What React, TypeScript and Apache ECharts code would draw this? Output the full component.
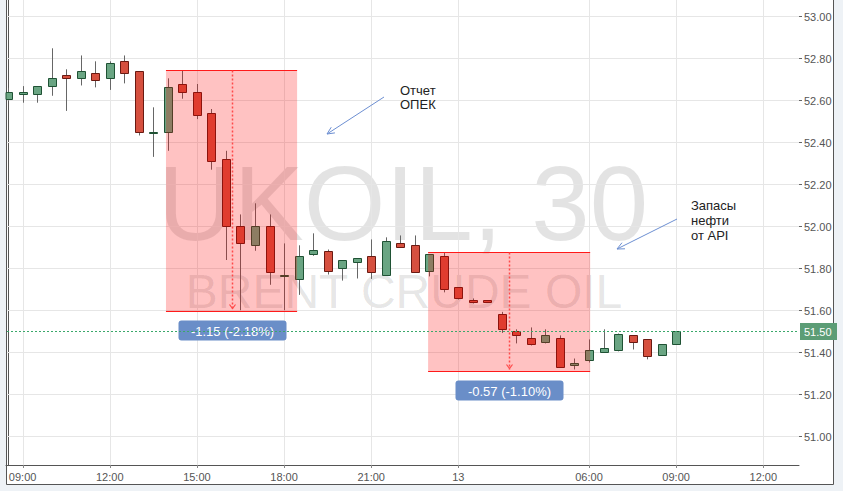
import React, { useEffect, useRef } from 'react';
import * as echarts from 'echarts';

// 30-minute candles, slot 0 = 08:30 (day 12)
const opens = [52.605, 52.632, 52.629, 52.667, 52.719, 52.705, 52.729, 52.705, 52.786, 52.738,
  52.448, 52.448, 52.676, 52.638, 52.538, 52.319, 52.000, 51.910, 52.000, 51.767,
  51.748, 51.867, 51.881, 51.800, 51.829, 51.857, 51.767, 51.919, 51.910, 51.790,
  51.857, 51.710, 51.648, 51.648, 51.581, 51.501, 51.471, 51.448, 51.471, 51.338,
  51.362, 51.400, 51.410, 51.481, 51.462, 51.390, 51.438];
const closes = [52.638, 52.640, 52.667, 52.705, 52.705, 52.738, 52.695, 52.776, 52.729, 52.448,
  52.449, 52.665, 52.638, 52.529, 52.310, 52.000, 51.919, 52.000, 51.781, 51.768,
  51.857, 51.889, 51.790, 51.838, 51.848, 51.781, 51.929, 51.900, 51.781, 51.867,
  51.700, 51.657, 51.638, 51.640, 51.510, 51.481, 51.438, 51.481, 51.329, 51.348,
  51.410, 51.419, 51.490, 51.448, 51.381, 51.438, 51.500];
const lows = [52.598, 52.589, 52.589, 52.622, 52.550, 52.671, 52.662, 52.650, 52.681, 52.433,
  52.331, 52.360, 52.608, 52.511, 52.270, 51.840, 51.601, 51.884, 51.722, 51.601,
  51.674, 51.860, 51.771, 51.742, 51.752, 51.750, 51.767, 51.900, 51.781, 51.762,
  51.686, 51.652, 51.633, 51.640, 51.493, 51.443, 51.433, 51.443, 51.329, 51.319,
  51.352, 51.400, 51.405, 51.414, 51.367, 51.386, 51.438];
const highs = [52.660, 52.668, 52.667, 52.848, 52.748, 52.814, 52.786, 52.786, 52.814, 52.738,
  52.567, 52.705, 52.740, 52.678, 52.559, 52.360, 52.057, 52.110, 52.057, 51.919,
  51.910, 51.967, 51.890, 51.838, 51.848, 51.938, 51.948, 51.957, 51.957, 51.867,
  51.876, 51.710, 51.657, 51.648, 51.593, 51.510, 51.519, 51.510, 51.481, 51.371,
  51.462, 51.510, 51.490, 51.481, 51.462, 51.438, 51.500];

const xTickSlots = [1, 7, 13, 19, 25, 31, 40, 46, 52];
const xTickLabels = ['09:00', '12:00', '15:00', '18:00', '21:00', '13', '06:00', '09:00', '12:00'];
const yTickValues = [51.0, 51.2, 51.4, 51.6, 51.8, 52.0, 52.2, 52.4, 52.6, 52.8, 53.0];

const rangeStart = [10.87, 28.92];
const rangeEnd = [19.9, 40.08];
const rangeHigh = [52.745, 51.88];
const rangeLow = [51.595, 51.31];
const rangeLabels = ['-1.15 (-2.18%)', '-0.57 (-1.10%)'];

const lastPrice = 51.5;
const X_MIN = -0.145;
const X_MAX = 54.46;
const Y_MIN = 50.864;
const Y_MAX = 53.078;

const FONT = '"Liberation Sans", Arial, sans-serif';

function arrowHead(x1: number, y1: number, x2: number, y2: number, len: number) {
  const dx = x1 - x2, dy = y1 - y2;
  const l = Math.sqrt(dx * dx + dy * dy);
  const bx = dx / l, by = dy / l;
  const a = (25 * Math.PI) / 180;
  const c = Math.cos(a), s = Math.sin(a);
  const p1 = [x2 + len * (bx * c - by * s), y2 + len * (bx * s + by * c)];
  const p2 = [x2 + len * (bx * c + by * s), y2 + len * (-bx * s + by * c)];
  return [p1, [x2, y2], p2];
}

export default function App() {
  const ref = useRef<HTMLDivElement>(null);
  useEffect(() => {
    if (!ref.current) return;
    const chart = echarts.init(ref.current, undefined, { renderer: 'svg' });

    const candleData = opens.map((o, k) => [k, o, closes[k], lows[k], highs[k]]);

    const renderCandle = (params: any, api: any) => {
      const idx = api.value(0), o = api.value(1), c = api.value(2), l = api.value(3), h = api.value(4);
      const cs = params.coordSys;
      const xc = api.coord([idx, o])[0];
      const yO = api.coord([idx, o])[1];
      const yC = api.coord([idx, c])[1];
      const yL = api.coord([idx, l])[1];
      const yH = api.coord([idx, h])[1];
      const up = c >= o;
      const bw = 8;
      const x = Math.round(xc - bw / 2) + 0.5;
      const top = Math.round(Math.min(yO, yC)) + 0.5;
      let bot = Math.round(Math.max(yO, yC)) + 0.5;
      if (bot - top < 1) bot = top + 1;
      const rect = echarts.graphic.clipRectByRect(
        { x, y: top, width: bw, height: bot - top },
        { x: cs.x, y: cs.y, width: cs.width, height: cs.height }
      );
      const wx = Math.round(xc) + 0.5;
      const children: any[] = [];
      if (wx > cs.x) {
        children.push({ type: 'line', shape: { x1: wx, y1: yH, x2: wx, y2: yL }, style: { stroke: '#666', lineWidth: 1 } });
      }
      if (rect) {
        children.push({
          type: 'rect',
          shape: rect,
          style: up ? { fill: '#6aa583', stroke: '#1f5234', lineWidth: 1 } : { fill: '#d6503f', stroke: '#6a1a12', lineWidth: 1 },
        });
      }
      return { type: 'group', children };
    };

    // horizontal gridline + right-axis tick + label
    const renderHGrid = (params: any, api: any) => {
      const cs = params.coordSys;
      const v = api.value(1);
      const y = Math.round(api.coord([X_MIN, v])[1]) + 0.5;
      const right = cs.x + cs.width;
      return {
        type: 'group',
        children: [
          { type: 'line', shape: { x1: cs.x + 1, y1: y, x2: right, y2: y }, style: { stroke: '#e6e6e6', lineWidth: 1 } },
          { type: 'line', shape: { x1: right, y1: y, x2: right + 3, y2: y }, style: { stroke: '#666', lineWidth: 1 } },
          {
            type: 'text',
            style: { x: right + 5, y: y, text: v.toFixed(2), fill: '#555', font: '11px ' + FONT, align: 'left', verticalAlign: 'middle' },
          },
        ],
      };
    };
    const renderVGrid = (params: any, api: any) => {
      const cs = params.coordSys;
      const x = Math.round(api.coord([api.value(0), Y_MIN])[0]) + 0.5;
      const bottom = cs.y + cs.height;
      return {
        type: 'group',
        children: [
          { type: 'line', shape: { x1: x, y1: cs.y, x2: x, y2: bottom }, style: { stroke: '#e6e6e6', lineWidth: 1 } },
          { type: 'line', shape: { x1: x, y1: bottom, x2: x, y2: bottom + 3 }, style: { stroke: '#888', lineWidth: 1 } },
        ],
      };
    };

    const renderRange = (params: any, api: any) => {
      const k = params.dataIndex;
      const p0 = api.coord([api.value(0), api.value(2)]);
      const p1 = api.coord([api.value(1), api.value(3)]);
      const x0 = p0[0], x1 = p1[0];
      const yT = Math.round(p0[1]) + 0.5, yB = Math.round(p1[1]) + 0.5;
      const xm = Math.round((x0 + x1) / 2) + 0.5;
      return {
        type: 'group',
        children: [
          { type: 'rect', shape: { x: x0, y: yT, width: x1 - x0, height: yB - yT }, style: { fill: 'rgba(255,0,0,0.24)' } },
          { type: 'line', shape: { x1: x0, y1: yT, x2: x1, y2: yT }, style: { stroke: '#ff1a1a', lineWidth: 1 } },
          { type: 'line', shape: { x1: x0, y1: yB, x2: x1, y2: yB }, style: { stroke: '#ff1a1a', lineWidth: 1 } },
          { type: 'line', shape: { x1: xm, y1: yT, x2: xm, y2: yB - 2 }, style: { stroke: '#ff4a4a', lineWidth: 1.5, lineDash: [2, 2] } },
          { type: 'polyline', shape: { points: [[xm - 3, yB - 7], [xm, yB - 3], [xm + 3, yB - 7]] }, style: { stroke: '#ff4a4a', fill: null, lineWidth: 1.2 } },
          { type: 'rect', shape: { x: xm - 54, y: yB + 9, width: 108, height: 20, r: 3 }, style: { fill: '#6a8ec8' } },
          {
            type: 'text',
            style: { x: xm, y: yB + 19.5, text: rangeLabels[k], fill: '#fff', font: '13px ' + FONT, align: 'center', verticalAlign: 'middle' },
          },
        ],
      };
    };

    const renderPrice = (params: any, api: any) => {
      const cs = params.coordSys;
      const y = Math.round(api.coord([api.value(0), api.value(1)])[1]) + 0.5;
      const right = cs.x + cs.width;
      return {
        type: 'group',
        children: [
          { type: 'line', shape: { x1: cs.x + 1, y1: y, x2: right, y2: y }, style: { stroke: '#3aa86a', lineWidth: 1, lineDash: [2, 2] } },
          { type: 'rect', shape: { x: right + 1, y: y - 8.5, width: 37, height: 17 }, style: { fill: '#5c9d76' } },
          {
            type: 'text',
            style: { x: right + 5, y: y, text: api.value(1).toFixed(2), fill: '#fff', font: '11px ' + FONT, align: 'left', verticalAlign: 'middle' },
          },
        ],
      };
    };

    const a1 = { x1: 384, y1: 97, x2: 327, y2: 134 };
    const a2 = { x1: 677, y1: 219, x2: 617, y2: 249 };

    chart.setOption({
      animation: false,
      backgroundColor: '#eef2f6',
      grid: { left: 6, right: 44, top: 0, bottom: 26, containLabel: false, outerBoundsMode: 'none', show: false },
      xAxis: {
        type: 'value',
        min: X_MIN,
        max: X_MAX,
        axisLine: { show: true, lineStyle: { color: '#555', width: 1 } },
        axisTick: { show: false },
        splitLine: { show: false },
        axisLabel: {
          customValues: xTickSlots,
          color: '#555',
          fontSize: 11,
          fontFamily: FONT,
          margin: 6,
          formatter: (v: number) => {
            const k = xTickSlots.findIndex((s) => Math.abs(s - v) < 1e-6);
            return k >= 0 ? xTickLabels[k] : '';
          },
        },
      },
      yAxis: {
        type: 'value',
        position: 'right',
        min: Y_MIN,
        max: Y_MAX,
        axisLine: { show: true, lineStyle: { color: '#555', width: 1 } },
        axisTick: { show: false },
        splitLine: { show: false },
        axisLabel: { show: false },
      },
      graphic: [
        { type: 'rect', z: -100, silent: true, shape: { x: 6.5, y: -1, width: 827, height: 485.5 }, style: { fill: '#fff', stroke: '#555', lineWidth: 1 } },
        {
          type: 'text', z: -50, silent: true,
          style: { x: 403, y: 203, text: 'UKOIL, 30', fill: 'rgba(0,0,0,0.11)', font: '105px ' + FONT, align: 'center', verticalAlign: 'middle' },
        },
        {
          type: 'text', z: -50, silent: true,
          style: { x: 404, y: 291, text: 'BRENT CRUDE OIL', fill: 'rgba(0,0,0,0.11)', font: '48px ' + FONT, align: 'center', verticalAlign: 'middle' },
        },
        {
          type: 'text', z: 50,
          style: { x: 400, y: 83, text: 'Отчет\nОПЕК', fill: '#222', font: '13px ' + FONT, lineHeight: 14, align: 'left', verticalAlign: 'top' },
        },
        {
          type: 'text', z: 50,
          style: { x: 691, y: 198, text: 'Запасы\nнефти\nот API', fill: '#222', font: '13px ' + FONT, lineHeight: 15, align: 'left', verticalAlign: 'top' },
        },
        { type: 'line', z: 50, shape: a1, style: { stroke: '#6d8fd2', lineWidth: 1 } },
        { type: 'polyline', z: 50, shape: { points: arrowHead(a1.x1, a1.y1, a1.x2, a1.y2, 8) }, style: { stroke: '#6d8fd2', fill: null, lineWidth: 1 } },
        { type: 'line', z: 50, shape: a2, style: { stroke: '#6d8fd2', lineWidth: 1 } },
        { type: 'polyline', z: 50, shape: { points: arrowHead(a2.x1, a2.y1, a2.x2, a2.y2, 8) }, style: { stroke: '#6d8fd2', fill: null, lineWidth: 1 } },
      ],
      series: [
        { type: 'custom', name: 'hgrid', z: 1, silent: true, renderItem: renderHGrid, data: yTickValues.map((v) => [X_MIN, v]), encode: { x: 0, y: 1 } },
        { type: 'custom', name: 'vgrid', z: 1, silent: true, renderItem: renderVGrid, data: xTickSlots.map((s) => [s, Y_MIN]), encode: { x: 0, y: 1 } },
        { type: 'custom', name: 'UKOIL', z: 2, renderItem: renderCandle, data: candleData, encode: { x: 0, y: [1, 2, 3, 4] } },
        {
          type: 'custom', name: 'ranges', z: 3, silent: true, renderItem: renderRange,
          data: rangeStart.map((s, k) => [s, rangeEnd[k], rangeHigh[k], rangeLow[k]]),
          encode: { x: [0, 1], y: [2, 3] },
        },
        { type: 'custom', name: 'price', z: 4, silent: true, renderItem: renderPrice, data: [[X_MIN, lastPrice]], encode: { x: 0, y: 1 } },
      ],
    });
    return () => chart.dispose();
  }, []);
  return <div ref={ref} style={{ position: 'fixed', left: 0, top: 0, width: '843px', height: '491px' }} />;
}
